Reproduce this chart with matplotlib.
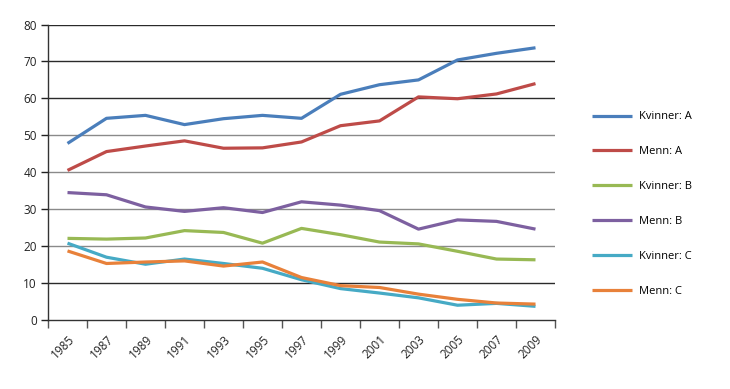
import numpy as np
import matplotlib
matplotlib.use("Agg")
import matplotlib.pyplot as plt

# Data
years = [str(y) for y in range(1985, 2010, 2)]
kvinner_a = [47.8, 54.6, 55.4, 52.9, 54.5, 55.4, 54.6, 61.1, 63.7, 65.0, 70.4, 72.2, 73.7]
menn_a = [40.5, 45.6, 47.1, 48.5, 46.5, 46.6, 48.2, 52.6, 53.9, 60.4, 59.9, 61.2, 64.0]
kvinner_b = [22.1, 21.9, 22.2, 24.2, 23.7, 20.8, 24.8, 23.1, 21.1, 20.6, 18.6, 16.5, 16.3]
menn_b = [34.5, 33.9, 30.6, 29.4, 30.4, 29.1, 32.0, 31.1, 29.6, 24.6, 27.1, 26.7, 24.6]
kvinner_c = [20.8, 17.0, 15.1, 16.5, 15.3, 14.0, 10.9, 8.5, 7.3, 6.0, 4.0, 4.5, 3.7]
menn_c = [18.7, 15.3, 15.7, 16.0, 14.6, 15.7, 11.5, 9.3, 8.8, 7.0, 5.6, 4.6, 4.3]

series = [
    ("Kvinner: A", kvinner_a, "#4A7EBB"),
    ("Menn: A", menn_a, "#BE4B48"),
    ("Kvinner: B", kvinner_b, "#98B954"),
    ("Menn: B", menn_b, "#7D60A0"),
    ("Kvinner: C", kvinner_c, "#46AAC5"),
    ("Menn: C", menn_c, "#E8813A"),
]

plt.rcParams['font.family'] = ['Open Sans', 'DejaVu Sans']

fig = plt.figure(figsize=(7.30, 3.89), dpi=100)
ax = fig.add_axes([48 / 730, 1 - 320 / 389, 507 / 730, (320 - 24.5) / 389])

x = np.arange(len(years))

# gridlines (some darker, as in the original rendering)
for v in range(10, 90, 10):
    col = "#8a8a8a" if v in (20, 30, 40, 50) else "#2a2a2a"
    ax.axhline(v, color=col, lw=1.0, zorder=1)

for label, vals, col in series:
    ax.plot(x, vals, color=col, lw=2.3, label=label, zorder=3,
            solid_capstyle='butt')

ax.set_xlim(-0.5, len(years) - 0.5)
ax.set_ylim(0, 80)
ax.set_yticks(range(0, 90, 10))
ax.tick_params(axis='y', direction='out', length=5, width=1, colors='#222222',
               labelsize=8.5, pad=3)

ax.set_xticks(np.arange(-0.5, len(years), 1.0))
ax.set_xticklabels([])
ax.set_xticks(x, minor=True)
ax.set_xticklabels(years, minor=True, rotation=45, ha='right',
                   rotation_mode='anchor', fontsize=8.5)
ax.tick_params(axis='x', which='major', direction='out', length=6, width=1,
               colors='#555555')
ax.tick_params(axis='x', which='minor', length=0, pad=9, labelcolor='#222222')

for s in ['top', 'right']:
    ax.spines[s].set_visible(False)
for s in ['left', 'bottom']:
    ax.spines[s].set_color('#333333')
    ax.spines[s].set_linewidth(1)

ax.legend(loc='upper left', bbox_to_anchor=(588 / 730, 1 - 107 / 389),
          bbox_transform=fig.transFigure, frameon=False, fontsize=8,
          handlelength=3.6, handletextpad=0.6, labelspacing=2.15,
          borderaxespad=0)

fig.savefig("out.png", dpi=100)
